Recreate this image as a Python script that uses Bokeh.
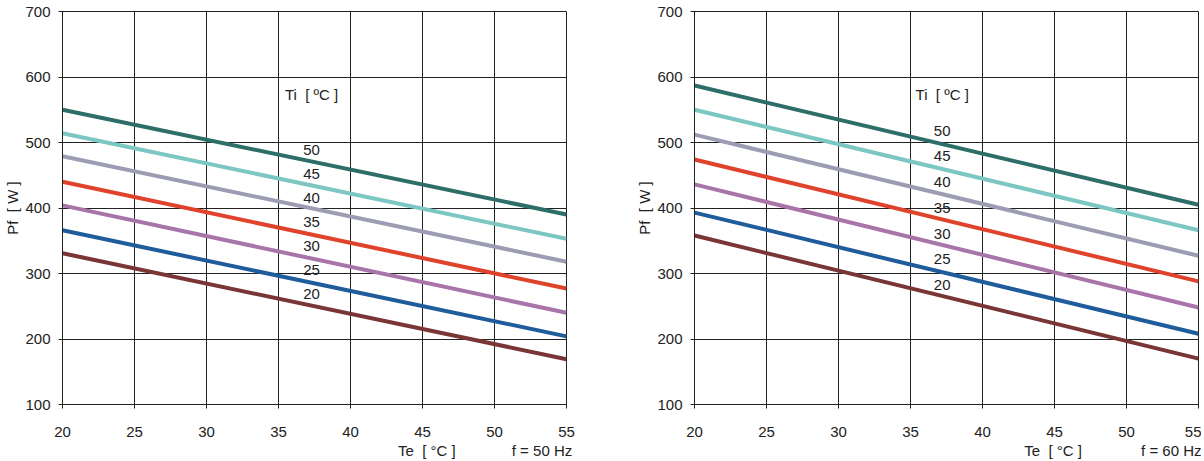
from bokeh.plotting import figure
from bokeh.layouts import row
from bokeh.models import FixedTicker, Label, LinearAxis
from bokeh.embed import file_html
from bokeh.resources import INLINE

te = [20, 55]
ti_levels = ["50", "45", "40", "35", "30", "25", "20"]
colors = ["#2e6e69", "#7cc7c1", "#9c9db3", "#e0432b", "#a874aa", "#1f5c9c", "#7a3636"]

# Pf [W] at Te = 20 and Te = 55, f = 50 Hz
pf_50hz = [
    [550, 390],
    [514, 353],
    [479, 318],
    [440, 277],
    [404, 240],
    [366, 204],
    [331, 169],
]
# Pf [W] at Te = 20 and Te = 55, f = 60 Hz
pf_60hz = [
    [587, 405],
    [550, 366],
    [512, 327],
    [474, 288],
    [436, 248],
    [393, 208],
    [358, 170],
]

FONT = "Liberation Sans"
FS = "15px"
TXT = "#222222"
NB = "\u00a0"


def make(pf, freq, border_left, border_right, lab_x, lab_y0, lab_step, ti_head_y, te_x, f_x):
    p = figure(width=border_left + 504 + border_right, height=461,
               x_range=(20, 55), y_range=(100, 700),
               output_backend="svg", toolbar_location=None,
               min_border_left=border_left, min_border_right=border_right,
               min_border_top=11, min_border_bottom=57,
               frame_width=504, frame_height=393)
    p.background_fill_color = "white"
    p.border_fill_color = "white"
    p.outline_line_color = TXT
    p.outline_line_width = 1

    p.xaxis.ticker = FixedTicker(ticks=[20, 25, 30, 35, 40, 45, 50, 55])
    p.yaxis.ticker = FixedTicker(ticks=[100, 200, 300, 400, 500, 600, 700])
    p.axis.axis_line_color = TXT
    p.axis.major_tick_line_color = TXT
    p.axis.major_tick_out = 4
    p.axis.major_tick_in = 4
    p.axis.minor_tick_line_color = None
    p.axis.major_label_text_font = FONT
    p.axis.major_label_text_font_size = FS
    p.axis.major_label_text_color = TXT
    p.yaxis.major_label_standoff = 8
    p.xaxis.major_label_standoff = 18
    p.yaxis.axis_label = "Pf" + NB + NB + "[" + NB + "W" + NB + "]"
    p.yaxis.axis_label_text_font = FONT
    p.yaxis.axis_label_text_font_size = FS
    p.yaxis.axis_label_text_font_style = "normal"
    p.yaxis.axis_label_text_color = TXT
    p.yaxis.axis_label_standoff = 1

    # second row of texts under the x axis: "Te [°C]" and the frequency
    te_lab = "Te" + NB + NB + "[" + NB + "°C" + NB + "]"
    f_lab = f"f = {freq} Hz"
    under = LinearAxis(ticker=FixedTicker(ticks=[te_x, f_x]),
                       major_label_overrides={te_x: te_lab, f_x: f_lab},
                       axis_line_color=None, major_tick_line_color=None,
                       minor_tick_line_color=None, major_tick_out=0, major_tick_in=0,
                       major_label_standoff=2, major_label_text_font=FONT,
                       major_label_text_font_size=FS, major_label_text_color=TXT)
    p.add_layout(under, "below")

    p.xgrid.grid_line_color = TXT
    p.ygrid.grid_line_color = TXT
    p.xgrid.grid_line_width = 1
    p.ygrid.grid_line_width = 1

    for vals, c in zip(pf, colors):
        p.line(te, vals, line_color=c, line_width=4)

    p.add_layout(Label(x=lab_x, y=ti_head_y, text="Ti" + NB + NB + "[" + NB + "ºC" + NB + "]",
                       text_font=FONT, text_font_size=FS, text_color=TXT,
                       text_align="center", text_baseline="middle"))
    for i, t in enumerate(ti_levels):
        p.add_layout(Label(x=lab_x, y=lab_y0 - i * lab_step, text=t, text_font=FONT,
                           text_font_size=FS, text_color=TXT,
                           text_align="center", text_baseline="middle"))
    return p


p1 = make(pf_50hz, 50, 62, 36, 37.3, 488, 36.5, 573, 45.3, 53.3)
p2 = make(pf_60hz, 60, 92, 3, 37.2, 518, 39.3, 573, 44.9, 53.3)

layout = row(p1, p2)
open("out.html", "w").write(file_html(layout, INLINE))
